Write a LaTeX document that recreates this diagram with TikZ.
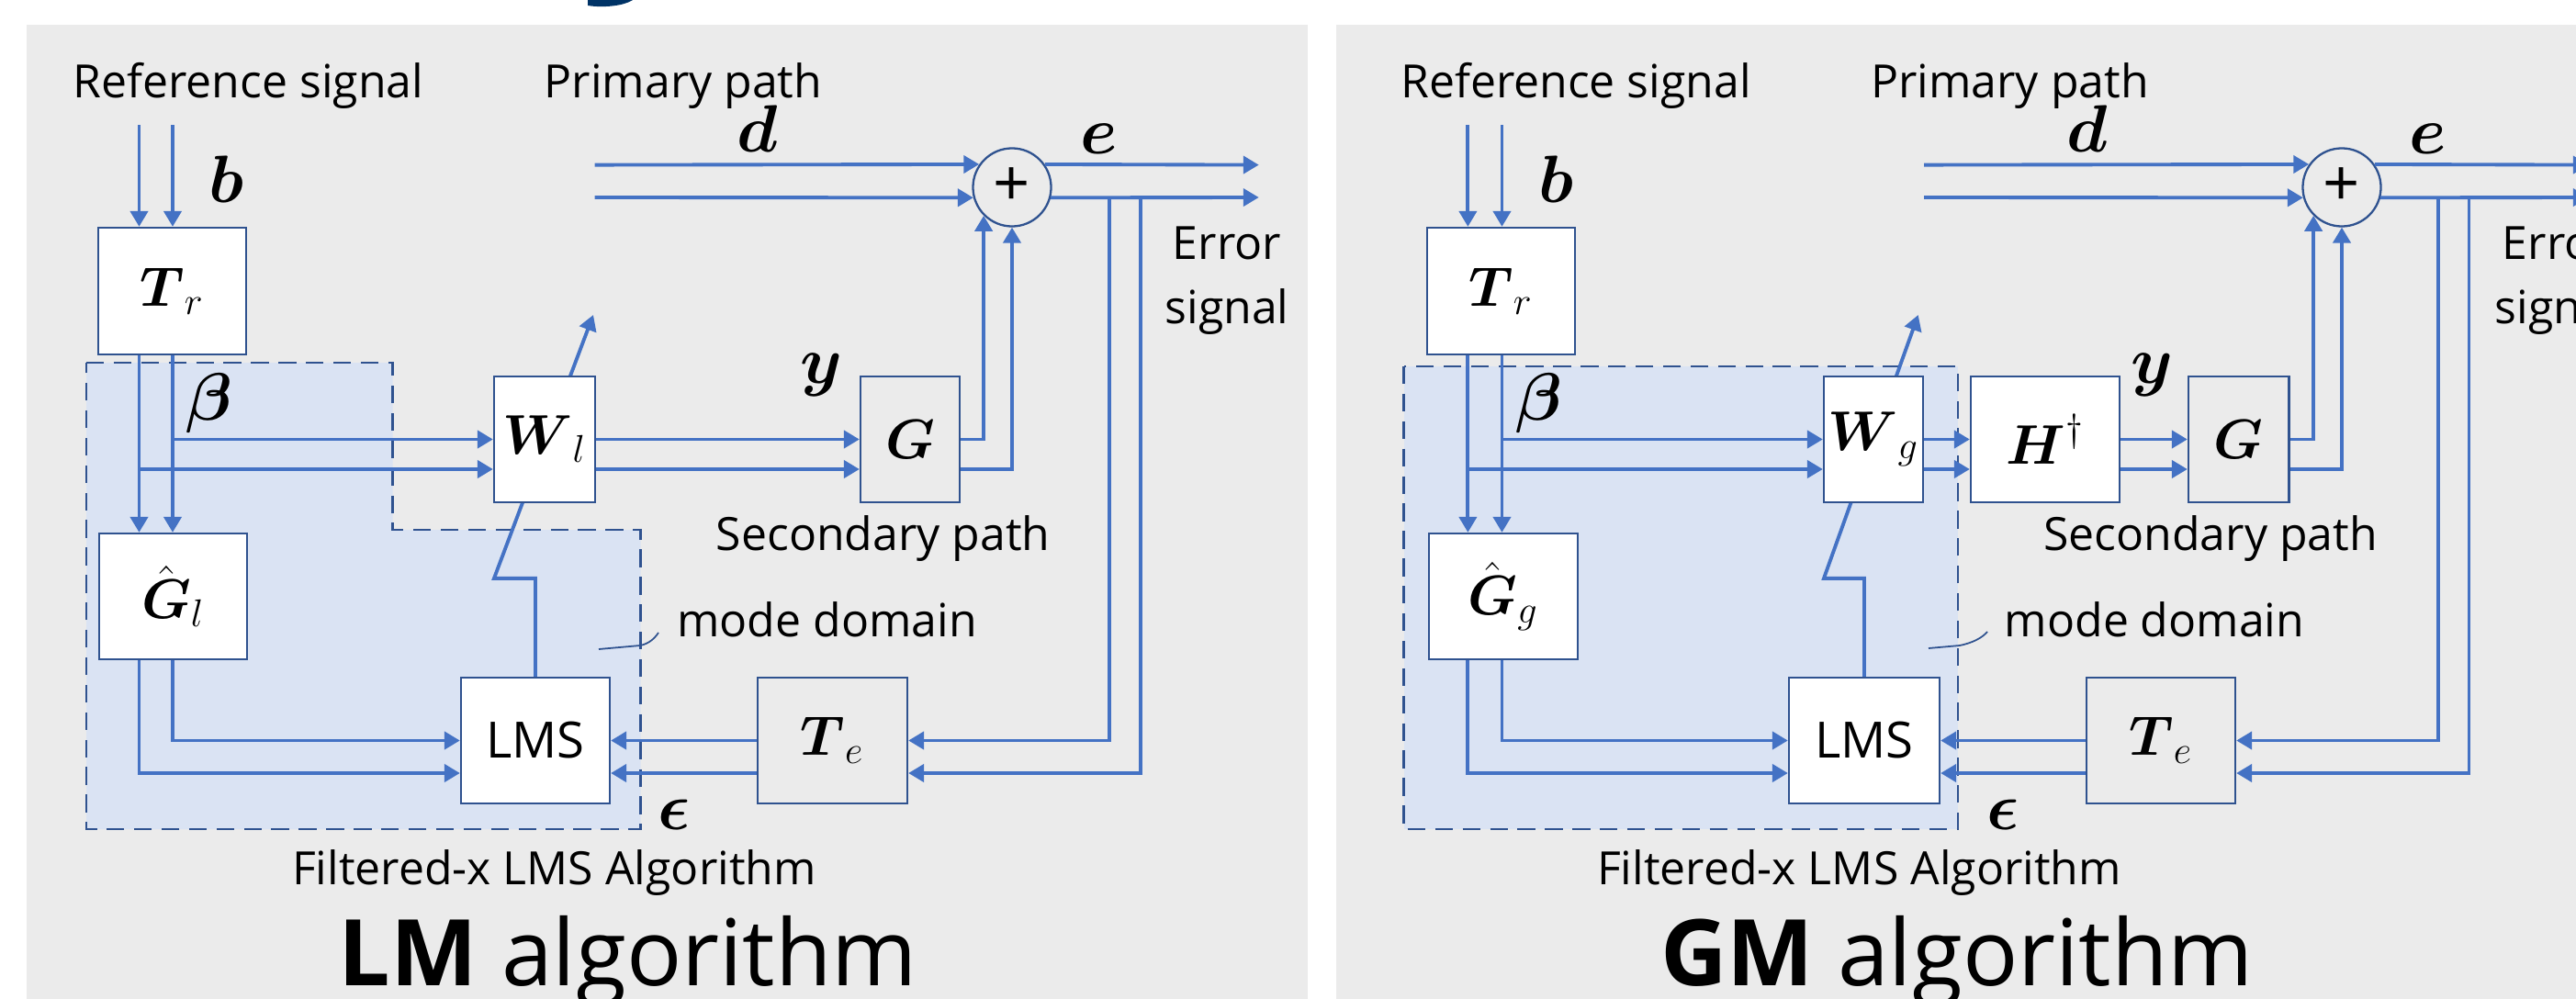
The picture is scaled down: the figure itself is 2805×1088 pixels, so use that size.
\documentclass[tikz,border=0pt]{standalone}
\usepackage{fontspec}
\setmainfont{Open Sans}
\usepackage{amsmath}
\usetikzlibrary{arrows.meta,calc}
\pgfdeclarelayer{back}
\pgfdeclarelayer{mid}
\pgfsetlayers{back,mid,main}
\definecolor{panelgray}{HTML}{EBEBEB}
\definecolor{regionfill}{HTML}{DAE3F3}
\definecolor{lineblue}{HTML}{4472C4}
\definecolor{boxblue}{HTML}{2F528F}
\definecolor{navyglyph}{HTML}{003366}
\tikzset{
  ln/.style={draw=lineblue, line width=1.1pt},
  arr/.style={ln, -{Triangle[length=4.8pt,width=5.4pt]}},
  wbox/.style={draw=boxblue, line width=0.65pt, fill=white, inner sep=0pt, font=\fontsize{17pt}{20pt}\selectfont},
  gbox/.style={draw=boxblue, line width=0.65pt, inner sep=0pt, font=\fontsize{17pt}{20pt}\selectfont},
  sumc/.style={circle, draw=boxblue, line width=0.65pt, minimum size=0.85cm, inner sep=0pt, font=\fontsize{20pt}{22pt}\selectfont},
  txt/.style={font=\fontsize{14.2pt}{19.9pt}\selectfont, inner sep=0pt},
  lbl/.style={font=\fontsize{20.5pt}{24pt}\selectfont, inner sep=0pt},
  titletxt/.style={font=\fontsize{28.5pt}{34pt}\selectfont, inner sep=0pt},
  modereg/.style={fill=regionfill, draw=boxblue, line width=0.7pt, dash pattern=on 5.5pt off 3pt},
  leader/.style={draw=boxblue, line width=0.5pt},
}
\begin{document}
\begin{tikzpicture}[x=0.01cm, y=-0.01cm]
\clip (0,0) rectangle (2805,1088);
\begin{pgfonlayer}{back}
\fill[white] (0,0) rectangle (2805,1088);
\fill[panelgray] (29,27) rectangle (1424,1088);
\fill[panelgray] (1455,27) rectangle (2805,1088);
\fill[navyglyph] (640,0) -- (640,6) .. controls (655,8.5) and (678,7) .. (689,0) -- cycle;
\path[modereg] (94,395) -- (427.7,395) -- (427.7,577) -- (697.7,577) -- (697.7,903) -- (94,903) -- cycle;
\path[modereg] (1528.7,399) rectangle (2132,903);
\end{pgfonlayer}

% ================= LM panel =================
\node[wbox, minimum width=1.61cm, minimum height=1.38cm] (Tr1) at (187.5,317) {$\boldsymbol{T}_r$};
\node[wbox, minimum width=1.10cm, minimum height=1.37cm] (W1) at (593,478.5) {$\boldsymbol{W}_l$};
\node[gbox, minimum width=1.08cm, minimum height=1.37cm] (G1) at (991,478.5) {$\boldsymbol{G}$};
\node[wbox, minimum width=1.61cm, minimum height=1.37cm] (Gh1) at (188.5,649.5) {$\hat{\boldsymbol{G}}_l$};
\node[wbox, minimum width=1.62cm, minimum height=1.37cm, font=\fontsize{15.5pt}{18pt}\selectfont] (LMS1) at (583,806.5) {LMS};
\node[gbox, minimum width=1.63cm, minimum height=1.37cm] (Te1) at (906.5,806.5) {$\boldsymbol{T}_e$};
\node[sumc] (sum1) at (1102,204) {+};

\coordinate (r1a) at (151.5,136);
\coordinate (r1b) at (188,136);
\coordinate (lo1) at (0,511);
\coordinate (lo2) at (0,842);
\coordinate (p1a) at (647.5,179.6);
\coordinate (p1b) at (647.5,215);
\coordinate (o1a) at (1370.7,179.6);
\coordinate (o1b) at (1370.7,215);
\coordinate (ev1a) at (1208,215);
\coordinate (ev1b) at (1242,215);
\coordinate (a1) at (646,343);

\draw[arr] (r1a) -- (r1a |- Tr1.north);
\draw[arr] (r1b) -- (r1b |- Tr1.north);
\draw[arr] (r1a |- Tr1.south) -- (r1a |- Gh1.north);
\draw[arr] (r1b |- Tr1.south) -- (r1b |- Gh1.north);
\draw[arr] (r1b |- W1.west) -- (W1.west);
\draw[arr] (r1a |- lo1) -- (W1.west |- lo1);
\draw[arr] (W1.east) -- (G1.west);
\draw[arr] (W1.east |- lo1) -- (G1.west |- lo1);
\draw[arr] (G1.east) -| (sum1.south west);
\draw[arr] (G1.east |- lo1) -| (sum1.south);
\draw[arr] (p1a) -- (sum1.145);
\draw[arr] (p1b) -- (sum1.195);
\draw[arr] (sum1.35) -- (o1a);
\draw[arr] (sum1.-15) -- (o1b);
\draw[arr] (ev1a) |- (Te1.east);
\draw[arr] (ev1b) |- (Te1.east |- lo2);
\draw[arr] (Te1.west) -- (LMS1.east);
\draw[arr] (Te1.west |- lo2) -- (LMS1.east |- lo2);
\draw[arr] (r1b |- Gh1.south) |- (LMS1.west);
\draw[arr] (r1a |- Gh1.south) |- (LMS1.west |- lo2);
\begin{pgfonlayer}{mid}
\draw[arr] (LMS1.north) -- ++(0,-107) -- ++(-45,0) -- (a1);
\end{pgfonlayer}
\draw[leader] (652,707) -- (697,703) .. controls (707,701) and (713,695) .. (717,689);

\node[lbl, anchor=base] (b1) at (246,221) {$\boldsymbol{b}$};
\node[lbl, anchor=base] (d1) at (825,166) {$\boldsymbol{d}$};
\node[lbl, anchor=base] (e1) at (1196.5,168) {$\boldsymbol{e}$};
\node[lbl, anchor=base] (y1) at (894,417) {$\boldsymbol{y}$};
\node[lbl, anchor=base] (be1) at (228,457) {$\boldsymbol{\beta}$};
\node[lbl, anchor=base] (ep1) at (734,903) {$\boldsymbol{\epsilon}$};

\node[txt, anchor=base] (ref1) at (270.4,107) {Reference signal};
\node[txt, anchor=base] (prim1) at (744,107) {Primary path};
\node[txt, anchor=base] (sec1) at (961.6,599) {Secondary path};
\node[txt, anchor=base] (mode1) at (900.5,693) {mode domain};
\node[txt, anchor=base] (fx1) at (603.5,963) {Filtered-x LMS Algorithm};
\node[txt, anchor=north, align=center] (err1) at (1336,246) {Error\\signal};
\node[titletxt, anchor=base] (title1) at (684,1073.7) {\textbf{LM} algorithm};

% ================= GM panel =================
\node[wbox, minimum width=1.61cm, minimum height=1.38cm] (Tr2) at (1634.5,317) {$\boldsymbol{T}_r$};
\node[wbox, minimum width=1.08cm, minimum height=1.37cm] (W2) at (2040,478.5) {$\boldsymbol{W}_g$};
\node[wbox, minimum width=1.62cm, minimum height=1.37cm] (H2) at (2227,478.5) {$\boldsymbol{H}^\dagger$};
\node[gbox, minimum width=1.095cm, minimum height=1.37cm] (G2) at (2437.75,478.5) {$\boldsymbol{G}$};
\node[wbox, minimum width=1.62cm, minimum height=1.37cm] (Gh2) at (1637,649.5) {$\hat{\boldsymbol{G}}_g$};
\node[wbox, minimum width=1.64cm, minimum height=1.37cm, font=\fontsize{15.5pt}{18pt}\selectfont] (LMS2) at (2030,806.5) {LMS};
\node[gbox, minimum width=1.62cm, minimum height=1.37cm] (Te2) at (2353,806.5) {$\boldsymbol{T}_e$};
\node[sumc] (sum2) at (2550,204) {+};

\coordinate (r2a) at (1598.4,136);
\coordinate (r2b) at (1635.5,136);
\coordinate (p2a) at (2095,179.6);
\coordinate (p2b) at (2095,215);
\coordinate (o2a) at (2818.7,179.6);
\coordinate (o2b) at (2818.7,215);
\coordinate (ev2a) at (2655,215);
\coordinate (ev2b) at (2688.5,215);
\coordinate (a2) at (2088.7,343);

\draw[arr] (r2a) -- (r2a |- Tr2.north);
\draw[arr] (r2b) -- (r2b |- Tr2.north);
\draw[arr] (r2a |- Tr2.south) -- (r2a |- Gh2.north);
\draw[arr] (r2b |- Tr2.south) -- (r2b |- Gh2.north);
\draw[arr] (r2b |- W2.west) -- (W2.west);
\draw[arr] (r2a |- lo1) -- (W2.west |- lo1);
\draw[arr] (W2.east) -- (H2.west);
\draw[arr] (W2.east |- lo1) -- (H2.west |- lo1);
\draw[arr] (H2.east) -- (G2.west);
\draw[arr] (H2.east |- lo1) -- (G2.west |- lo1);
\draw[arr] (G2.east) -| (sum2.south west);
\draw[arr] (G2.east |- lo1) -| (sum2.south);
\draw[arr] (p2a) -- (sum2.145);
\draw[arr] (p2b) -- (sum2.195);
\draw[arr] (sum2.35) -- (o2a);
\draw[arr] (sum2.-15) -- (o2b);
\draw[arr] (ev2a) |- (Te2.east);
\draw[arr] (ev2b) |- (Te2.east |- lo2);
\draw[arr] (Te2.west) -- (LMS2.east);
\draw[arr] (Te2.west |- lo2) -- (LMS2.east |- lo2);
\draw[arr] (r2b |- Gh2.south) |- (LMS2.west);
\draw[arr] (r2a |- Gh2.south) |- (LMS2.west |- lo2);
\begin{pgfonlayer}{mid}
\draw[arr] (LMS2.north) -- ++(0,-107) -- ++(-44,0) -- (a2);
\end{pgfonlayer}
\draw[leader] (2100,706) -- (2134,703) .. controls (2148,700) and (2158,695) .. (2164,688);

\node[lbl, anchor=base] (b2) at (1694,221) {$\boldsymbol{b}$};
\node[lbl, anchor=base] (d2) at (2272.5,166) {$\boldsymbol{d}$};
\node[lbl, anchor=base] (e2) at (2643.5,168) {$\boldsymbol{e}$};
\node[lbl, anchor=base] (y2) at (2343,417) {$\boldsymbol{y}$};
\node[lbl, anchor=base] (be2) at (1676,457) {$\boldsymbol{\beta}$};
\node[lbl, anchor=base] (ep2) at (2181.5,903) {$\boldsymbol{\epsilon}$};

\node[txt, anchor=base] (ref2) at (1716,107) {Reference signal};
\node[txt, anchor=base] (prim2) at (2188.5,107) {Primary path};
\node[txt, anchor=base] (sec2) at (2407,599) {Secondary path};
\node[txt, anchor=base] (mode2) at (2346,693) {mode domain};
\node[txt, anchor=base] (fx2) at (2024.5,963) {Filtered-x LMS Algorithm};
\node[txt, anchor=north, align=center] (err2) at (2784,246) {Error\\signal};
\node[titletxt, anchor=base] (title2) at (2131,1073.7) {\textbf{GM} algorithm};
\end{tikzpicture}
\end{document}
